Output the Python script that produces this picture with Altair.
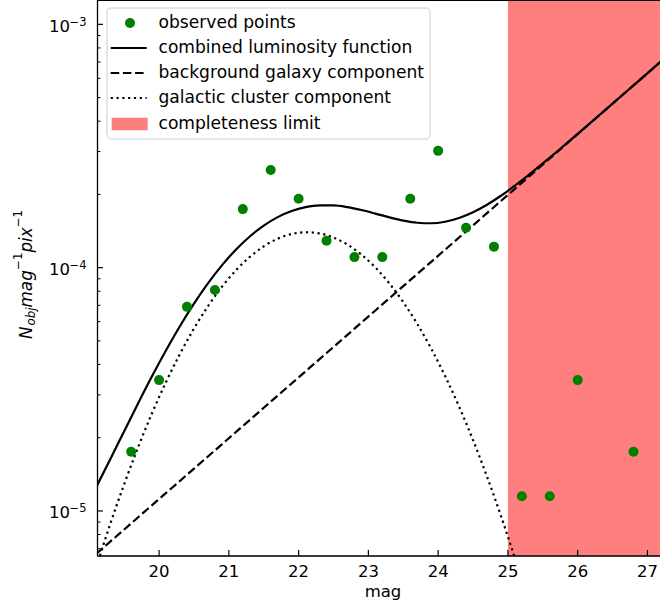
import altair as alt
import pandas as pd

# Observed galaxy counts per magnitude bin
obs_mag = [19.6, 20.0, 20.4, 20.8, 21.2, 21.6, 22.0, 22.4, 22.8, 23.2,
           23.6, 24.0, 24.4, 24.8, 25.2, 25.6, 26.0, 26.8]
obs_n = [1.75e-5, 3.45e-5, 6.9e-5, 8.1e-5, 1.74e-4, 2.52e-4, 1.92e-4, 1.29e-4,
         1.105e-4, 1.105e-4, 1.92e-4, 3.02e-4, 1.46e-4, 1.22e-4, 1.15e-5,
         1.15e-5, 3.45e-5, 1.75e-5]

# Model curves sampled along magnitude
curve_mag = [19.1, 19.3, 19.5, 19.7, 19.9, 20.1, 20.3, 20.5, 20.7, 20.9,
             21.1, 21.3, 21.5, 21.7, 21.9, 22.1, 22.3, 22.5, 22.7, 22.9,
             23.1, 23.3, 23.5, 23.7, 23.9, 24.1, 24.3, 24.5, 24.7, 24.9,
             25.1, 25.3, 25.5, 25.7, 25.9, 26.1, 26.3, 26.5, 26.7, 26.9,
             27.1, 27.3]
combined_n = [1.256e-5, 1.632e-5, 2.128e-5, 2.772e-5, 3.583e-5, 4.576e-5,
              5.756e-5, 7.113e-5, 8.615e-5, 1.0216e-4, 1.185e-4, 1.3432e-4,
              1.4887e-4, 1.6131e-4, 1.7091e-4, 1.7727e-4, 1.8030e-4, 1.8017e-4,
              1.7734e-4, 1.7259e-4, 1.6684e-4, 1.6102e-4, 1.5611e-4, 1.5294e-4,
              1.5220e-4, 1.5441e-4, 1.5990e-4, 1.6884e-4, 1.8134e-4, 1.9748e-4,
              2.1726e-4, 2.4076e-4, 2.6811e-4, 2.9948e-4, 3.3518e-4, 3.7554e-4,
              4.2105e-4, 4.7224e-4, 5.2976e-4, 5.9434e-4, 6.6683e-4, 7.4818e-4]
background_n = [6.67e-6, 7.48e-6, 8.39e-6, 9.42e-6, 1.057e-5, 1.186e-5,
                1.330e-5, 1.493e-5, 1.675e-5, 1.879e-5, 2.109e-5, 2.366e-5,
                2.655e-5, 2.979e-5, 3.342e-5, 3.750e-5, 4.207e-5, 4.721e-5,
                5.297e-5, 5.943e-5, 6.668e-5, 7.482e-5, 8.395e-5, 9.419e-5,
                1.0568e-4, 1.1858e-4, 1.3305e-4, 1.4928e-4, 1.6749e-4, 1.8793e-4,
                2.1086e-4, 2.3659e-4, 2.6546e-4, 2.9785e-4, 3.3420e-4, 3.7497e-4,
                4.2073e-4, 4.7206e-4, 5.2966e-4, 5.9429e-4, 6.6681e-4, 7.4817e-4]
cluster_mag = curve_mag[:32]
cluster_n = [5.89e-6, 8.84e-6, 1.289e-5, 1.830e-5, 2.526e-5, 3.390e-5,
             4.426e-5, 5.620e-5, 6.94e-5, 8.337e-5, 9.741e-5, 1.1066e-4,
             1.2232e-4, 1.3152e-4, 1.3749e-4, 1.3977e-4, 1.3823e-4, 1.3296e-4,
             1.2437e-4, 1.1316e-4, 1.0016e-4, 8.620e-5, 7.216e-5, 5.875e-5,
             4.652e-5, 3.583e-5, 2.685e-5, 1.956e-5, 1.385e-5, 9.55e-6,
             6.40e-6, 4.17e-6]

completeness_mag = 25.0
x_ticks = [20, 21, 22, 23, 24, 25, 26, 27]
y_major = [1e-5, 1e-4, 1e-3]
y_major_exp = ["\u22125", "\u22124", "\u22123"]
y_minor = [7e-6, 8e-6, 9e-6, 2e-5, 3e-5, 4e-5, 5e-5, 6e-5, 7e-5, 8e-5, 9e-5,
           2e-4, 3e-4, 4e-4, 5e-4, 6e-4, 7e-4, 8e-4, 9e-4]
legend_labels = ["observed points", "combined luminosity function",
                 "background galaxy component", "galactic cluster component",
                 "completeness limit"]

X_DOM = [19.11, 27.18]
Y_DOM = [6.53e-6, 1.259e-3]
W, H = 563, 556
FONT = "DejaVu Sans"
FS = 16.5
LEG_FS = 17.1
LW = 2.2

xs = alt.Scale(domain=X_DOM, nice=False, zero=False)
ys = alt.Scale(type="log", domain=Y_DOM, nice=False)

obs_df = pd.DataFrame({"mag": obs_mag, "n": obs_n})
comb_df = pd.DataFrame({"mag": curve_mag, "n": combined_n})
bg_df = pd.DataFrame({"mag": curve_mag, "n": background_n})
cl_df = pd.DataFrame({"mag": cluster_mag, "n": cluster_n})
one = pd.DataFrame({"k": [0]})

# completeness region
span = alt.Chart(pd.DataFrame({"x0": [completeness_mag], "x1": [X_DOM[1]],
                               "y0": [Y_DOM[0]], "y1": [Y_DOM[1]]})).mark_rect(
    color="red", opacity=0.5
).encode(
    x=alt.X("x0:Q", scale=xs, axis=None),
    x2="x1:Q",
    y=alt.Y("y0:Q", scale=ys, axis=None),
    y2="y1:Q",
)

def curve(df, dash=None):
    kw = dict(color="black", strokeWidth=LW, clip=True, interpolate="monotone")
    if dash:
        kw["strokeDash"] = dash
    return alt.Chart(df).mark_line(**kw).encode(
        x=alt.X("mag:Q", scale=xs, axis=None),
        y=alt.Y("n:Q", scale=ys, axis=None),
    )

bg_line = curve(bg_df, [8.5, 3.7])
cl_line = curve(cl_df, [2.2, 3.6])
comb_line = curve(comb_df)

points = alt.Chart(obs_df).mark_circle(size=100, color="green", opacity=1).encode(
    x=alt.X("mag:Q", scale=xs, axis=None),
    y=alt.Y("n:Q", scale=ys, axis=None),
)

# axis spines
spines = [
    alt.Chart(one).mark_rule(color="black", strokeWidth=1.3).encode(
        x=alt.value(0.5), y=alt.value(0), y2=alt.value(H)),
    alt.Chart(one).mark_rule(color="black", strokeWidth=1.3).encode(
        x=alt.value(0), x2=alt.value(W), y=alt.value(H)),
    alt.Chart(one).mark_rule(color="black", strokeWidth=1.3).encode(
        x=alt.value(0), x2=alt.value(W), y=alt.value(0.4)),
]

# inward-pointing ticks
xtick = alt.Chart(pd.DataFrame({"v": x_ticks})).mark_rule(
    color="black", strokeWidth=1.2
).encode(x=alt.X("v:Q", scale=xs, axis=None), y=alt.value(H), y2=alt.value(H - 6))

xlab = alt.Chart(pd.DataFrame({"v": x_ticks})).mark_text(
    align="center", baseline="alphabetic", font=FONT, fontSize=FS, color="black"
).encode(x=alt.X("v:Q", scale=xs, axis=None), y=alt.value(577), text="v:Q")

xtitle = alt.Chart(one).mark_text(
    text="mag", align="center", baseline="alphabetic", font=FONT, fontSize=FS,
    color="black"
).encode(x=alt.value(286), y=alt.value(597))

ymaj = alt.Chart(pd.DataFrame({"v": y_major})).mark_rule(
    color="black", strokeWidth=1.2
).encode(y=alt.Y("v:Q", scale=ys, axis=None), x=alt.value(0), x2=alt.value(6))

ymin = alt.Chart(pd.DataFrame({"v": y_minor})).mark_rule(
    color="black", strokeWidth=1.0
).encode(y=alt.Y("v:Q", scale=ys, axis=None), x=alt.value(0), x2=alt.value(3.5))

ylab_df = pd.DataFrame({"v": y_major, "e": y_major_exp})
ylab_base = alt.Chart(ylab_df).mark_text(
    align="right", baseline="alphabetic", font=FONT, fontSize=FS, color="black", dy=7.5
).encode(y=alt.Y("v:Q", scale=ys, axis=None), x=alt.value(-27), text=alt.value("10"))
ylab_exp = alt.Chart(ylab_df).mark_text(
    align="left", baseline="alphabetic", font=FONT, fontSize=11.5, color="black", dy=1.5
).encode(y=alt.Y("v:Q", scale=ys, axis=None), x=alt.value(-27.5), text="e:N")

# rotated y-axis title built from pieces with sub/superscripts
TF, SF = 16.8, 11.8
title_parts = [
    ("N", TF, -65.5, 339, "italic"),
    ("obj", SF, -62.5, 325.5, "italic"),
    ("mag", TF, -65.5, 307.5, "italic"),
    ("\u22121", SF, -75, 270, "normal"),
    ("pix", TF, -65.5, 252.6, "italic"),
    ("\u22121", SF, -75, 227.3, "normal"),
]
ytitle = [
    alt.Chart(one).mark_text(
        text=t, fontSize=fs, font=FONT, fontStyle=st, angle=270, align="left",
        baseline="alphabetic", color="black"
    ).encode(x=alt.value(px), y=alt.value(py))
    for t, fs, px, py, st in title_parts
]

# legend
row_y = [23, 48, 73, 98, 124]
leg = [
    alt.Chart(one).mark_rect(cornerRadius=4, fill="white", fillOpacity=0.8,
                             stroke="#cccccc", strokeWidth=1).encode(
        x=alt.value(10), x2=alt.value(333), y=alt.value(8), y2=alt.value(139)),
    alt.Chart(one).mark_circle(size=100, color="green", opacity=1).encode(
        x=alt.value(33), y=alt.value(row_y[0])),
    alt.Chart(one).mark_rule(color="black", strokeWidth=LW).encode(
        x=alt.value(13.7), x2=alt.value(49.7), y=alt.value(row_y[1])),
    alt.Chart(one).mark_rule(color="black", strokeWidth=LW, strokeDash=[8.5, 3.7]).encode(
        x=alt.value(13.7), x2=alt.value(49.7), y=alt.value(row_y[2])),
    alt.Chart(one).mark_rule(color="black", strokeWidth=LW, strokeDash=[2.2, 3.6]).encode(
        x=alt.value(13.7), x2=alt.value(49.7), y=alt.value(row_y[3])),
    alt.Chart(one).mark_rect(color="red", opacity=0.5).encode(
        x=alt.value(14.7), x2=alt.value(50.7), y=alt.value(row_y[4] - 6.2),
        y2=alt.value(row_y[4] + 6.2)),
]
for lbl, ry in zip(legend_labels, row_y):
    leg.append(alt.Chart(one).mark_text(
        text=lbl, align="left", baseline="middle", font=FONT, fontSize=LEG_FS,
        color="black").encode(x=alt.value(61.5), y=alt.value(ry)))

chart = alt.layer(
    span, bg_line, cl_line, comb_line, points, *spines, xtick, xlab, xtitle,
    ymaj, ymin, ylab_base, ylab_exp, *ytitle, *leg
).properties(
    width=W, height=H,
    padding={"left": 97, "top": 0, "right": 0, "bottom": 54},
    autosize=alt.AutoSizeParams(type="none"),
).configure_view(stroke=None).configure(background="white")

chart.save("out.html", embed_options={"renderer": "svg", "actions": False})
